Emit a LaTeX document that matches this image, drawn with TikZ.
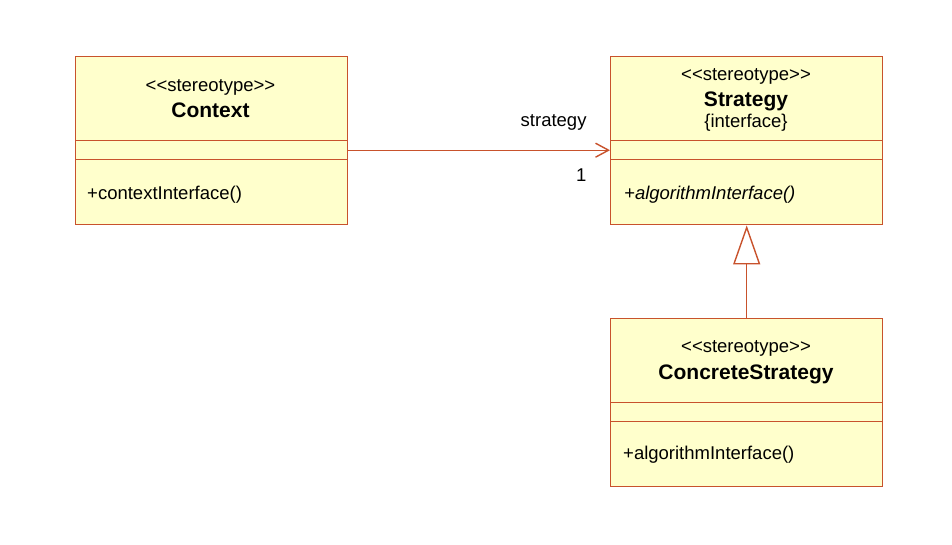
\documentclass[tikz,border=0pt]{standalone}
\usepackage{fontspec}
\setmainfont{Liberation Sans}
\usetikzlibrary{arrows.meta}
\definecolor{umlline}{RGB}{200,82,44}
\definecolor{umlfill}{RGB}{255,255,204}
\tikzset{
  classbox/.style={draw=umlline, fill=umlfill, line width=1.4pt, minimum width=272pt, minimum height=168pt, inner sep=0pt, anchor=north west},
  attrbox/.style={draw=umlline, line width=1.4pt, minimum width=272pt, minimum height=19pt, inner sep=0pt, anchor=north west},
  stereo/.style={inner sep=0pt, anchor=base, font=\fontsize{18.5}{21}\selectfont},
  classname/.style={inner sep=0pt, anchor=base, font=\fontsize{21}{24}\selectfont\bfseries},
  oper/.style={inner sep=0pt, anchor=base west, font=\fontsize{18.5}{21}\selectfont},
  assoc/.style={draw=umlline, line width=1.4pt, -{Straight Barb[length=13pt,width=14pt]}},
  inherit/.style={draw=umlline, line width=1.4pt, -{Triangle[open,length=39pt,width=27pt,fill=white]}}
}
\begin{document}
\begin{tikzpicture}[x=1pt, y=-1pt]
\useasboundingbox (0,0) rectangle (952,544);

% Context
\node[classbox] (ctx) at (75,56) {};
\node[attrbox] (ctxattr) at (75,140) {};
\node[stereo] (ctxst) at (210.5,91.5) {<{}<stereotype>{}>};
\node[classname] (ctxname) at (210.5,117.5) {Context};
\node[oper] (ctxop) at (87,199) {+contextInterface()};

% Strategy
\node[classbox] (str) at (610,56) {};
\node[attrbox] (strattr) at (610,140) {};
\node[stereo] (strst) at (746,80.5) {<{}<stereotype>{}>};
\node[classname] (strname) at (746,106) {Strategy};
\node[stereo] (strprop) at (746,127.5) {\{interface\}};
\node[oper] (strop) at (624,199) {\itshape +algorithmInterface()};

% ConcreteStrategy
\node[classbox] (cs) at (610,318) {};
\node[attrbox] (csattr) at (610,402) {};
\node[stereo] (csst) at (746,352) {<{}<stereotype>{}>};
\node[classname] (csname) at (746,379) {ConcreteStrategy};
\node[oper] (csop) at (623,459) {+algorithmInterface()};

% relations
\draw[assoc] (ctxattr.east) -- (strattr.west);
\node[oper] (rolename) at (520.5,126.5) {strategy};
\node[oper] (mult) at (576,181.5) {1};
\draw[inherit] (cs.north) -- (str.south);

\end{tikzpicture}
\end{document}
